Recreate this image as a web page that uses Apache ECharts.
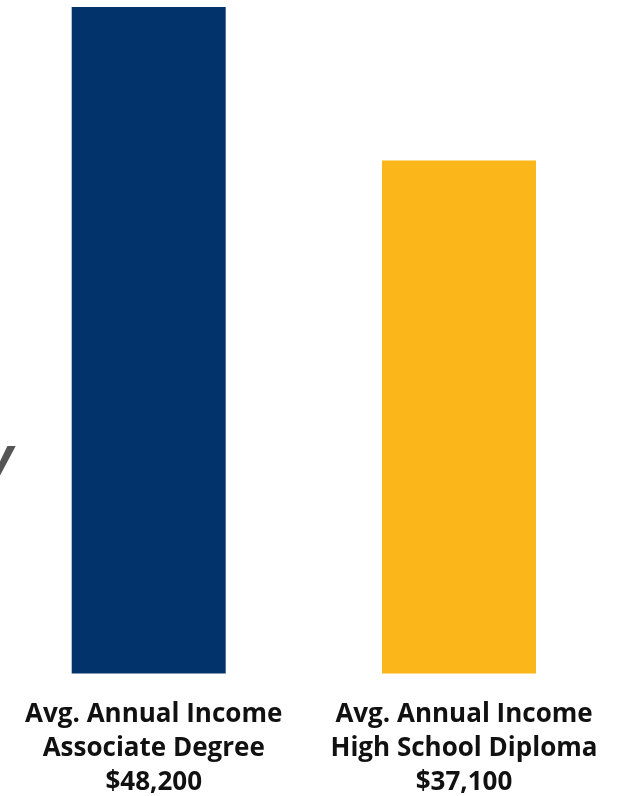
<!DOCTYPE html>
<html>
<head>
<meta charset="utf-8">
<script src="https://cdn.jsdelivr.net/npm/echarts@6/dist/echarts.min.js"></script>
<style>
html,body{margin:0;padding:0;background:#fff;}
#chart{width:628px;height:796px;}
</style>
</head>
<body>
<div id="chart"></div>
<script>
const categories = ['Associate Degree', 'High School Diploma'];
const labelPrefix = 'Avg. Annual Income';
const incomes = [48200, 37100];
const barColors = ['#03336B', '#FBB719'];

function fmt(v) { return '$' + v.toLocaleString('en-US'); }

const chart = echarts.init(document.getElementById('chart'));
chart.setOption({
  animation: false,
  backgroundColor: '#ffffff',
  grid: { left: 148.7, right: 169, top: 7, bottom: 122.5, containLabel: false, outerBoundsMode: 'none' },
  xAxis: {
    type: 'category',
    data: categories,
    boundaryGap: false,
    axisLine: { show: false },
    axisTick: { show: false },
    axisLabel: {
      interval: 0,
      margin: 24,
      padding: [0, 0, 0, 10],
      fontFamily: 'Open Sans',
      fontWeight: 'bold',
      fontSize: 26,
      lineHeight: 34,
      color: '#111111',
      formatter: function (val, idx) {
        return labelPrefix + '\n' + val + '\n' + fmt(incomes[idx]);
      }
    }
  },
  yAxis: { type: 'value', min: 0, max: 48200, show: false, splitLine: { show: false } },
  series: [{
    type: 'bar',
    barWidth: 154,
    clip: false,
    data: incomes.map((v, i) => ({ value: v, itemStyle: { color: barColors[i] } }))
  }],
  graphic: [{
    type: 'text',
    left: -14,
    top: 433,
    style: {
      text: 'y',
      font: 'italic bold 52px "Open Sans"',
      fill: '#555555'
    }
  }]
});
</script>
</body>
</html>
